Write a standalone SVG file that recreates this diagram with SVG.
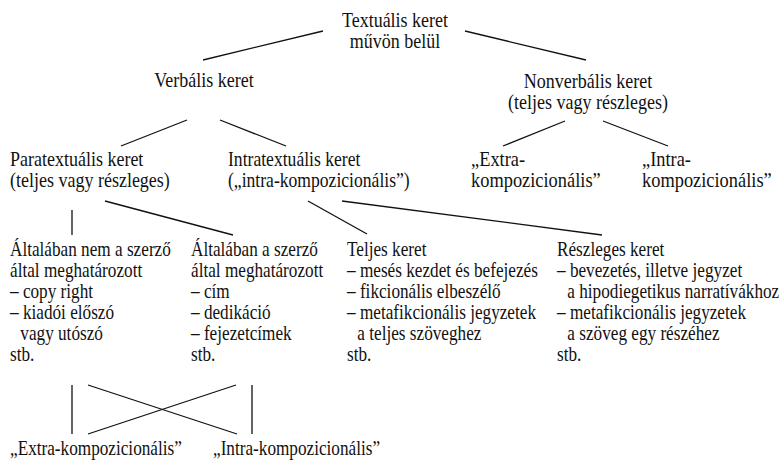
<svg xmlns="http://www.w3.org/2000/svg" width="779" height="460" viewBox="0 0 779 460">
<style>
text{font-family:"Liberation Serif","Times New Roman",serif;font-size:20px;fill:#111}
.c{text-anchor:middle}
.e line{stroke:#111;stroke-width:1.3}
</style>
<rect width="779" height="460" fill="#fff"/>
<g id="connectors" class="e">
<line x1="323" y1="31" x2="203" y2="60"/>
<line x1="465" y1="31" x2="586" y2="60"/>
<line x1="187" y1="120" x2="121" y2="146"/>
<line x1="220" y1="120" x2="286" y2="146"/>
<line x1="565" y1="121" x2="503" y2="146"/>
<line x1="603" y1="121" x2="668" y2="146"/>
<line x1="72" y1="210" x2="72" y2="235"/>
<line x1="105" y1="201" x2="233" y2="235"/>
<line x1="308" y1="201" x2="367" y2="234"/>
<line x1="342" y1="201" x2="602" y2="235"/>
<line x1="72" y1="385" x2="72" y2="434"/>
<line x1="252" y1="385" x2="252" y2="434"/>
<line x1="88" y1="385" x2="237" y2="434"/>
<line x1="236" y1="385" x2="88" y2="434"/>
</g>
<g id="textualis" transform="translate(395,0) scale(0.9,1)"><text class="c" x="0" y="27">Textuális keret</text><text class="c" x="0" y="48">művön belül</text></g>
<g id="verbalis" transform="translate(204,0) scale(0.9,1)"><text class="c" x="0" y="87">Verbális keret</text></g>
<g id="nonverbalis" transform="translate(588,0) scale(0.9,1)"><text class="c" x="0" y="88">Nonverbális keret</text><text class="c" x="0" y="109">(teljes vagy részleges)</text></g>
<g id="nv-extra" transform="translate(471,0) scale(0.92,1)"><text x="0" y="166">„Extra-</text><text x="0" y="187">kompozicionális”</text></g>
<g id="nv-intra" transform="translate(642,0) scale(0.92,1)"><text x="0" y="166">„Intra-</text><text x="0" y="187">kompozicionális”</text></g>
<g id="paratextualis" transform="translate(10,0) scale(0.9,1)"><text x="0" y="166">Paratextuális keret</text><text x="0" y="187">(teljes vagy részleges)</text></g>
<g id="intratextualis" transform="translate(228,0) scale(0.88,1)"><text x="0" y="166">Intratextuális keret</text><text x="0" y="187">(„intra-kompozicionális”)</text></g>
<g id="nem-szerzo" transform="translate(10,0) scale(0.86,1)"><text x="0" y="256">Általában nem a szerző</text><text x="0" y="277">által meghatározott</text><text x="0" y="298">– copy right</text><text x="0" y="319">– kiadói előszó</text><text x="12" y="340">vagy utószó</text><text x="0" y="361">stb.</text></g>
<g id="szerzo" transform="translate(191,0) scale(0.86,1)"><text x="0" y="256">Általában a szerző</text><text x="0" y="277">által meghatározott</text><text x="0" y="298">– cím</text><text x="0" y="319">– dedikáció</text><text x="0" y="340">– fejezetcímek</text><text x="0" y="361">stb.</text></g>
<g id="teljes" transform="translate(347,0) scale(0.86,1)"><text x="0" y="256">Teljes keret</text><text x="0" y="277">– mesés kezdet és befejezés</text><text x="0" y="298">– fikcionális elbeszélő</text><text x="0" y="319">– metafikcionális jegyzetek</text><text x="12" y="340">a teljes szöveghez</text><text x="0" y="361">stb.</text></g>
<g id="reszleges" transform="translate(557,0) scale(0.86,1)"><text x="0" y="256">Részleges keret</text><text x="0" y="277">– bevezetés, illetve jegyzet</text><text x="12" y="298">a hipodiegetikus narratívákhoz</text><text x="0" y="319">– metafikcionális jegyzetek</text><text x="12" y="340">a szöveg egy részéhez</text><text x="0" y="361">stb.</text></g>
<g id="extra" transform="translate(10,0) scale(0.86,1)"><text x="0" y="455">„Extra-kompozicionális”</text></g>
<g id="intra" transform="translate(213,0) scale(0.86,1)"><text x="0" y="455">„Intra-kompozicionális”</text></g>
</svg>
